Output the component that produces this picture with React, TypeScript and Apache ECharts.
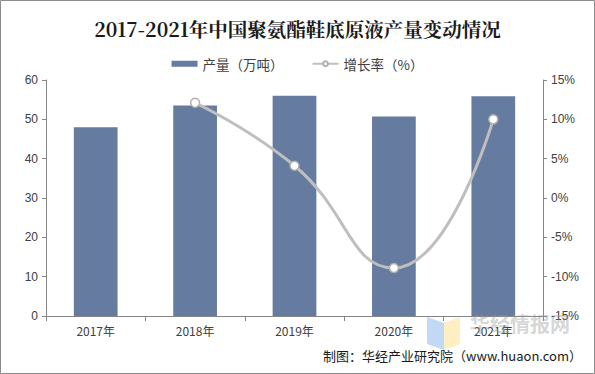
import React, { useEffect, useRef } from "react";
import * as echarts from "echarts";

const categories = ["2017年", "2018年", "2019年", "2020年", "2021年"];
const production = [48.0, 53.5, 56.0, 50.7, 55.9];
const growth = [null, 12.1, 4.1, -8.9, 10.0];
const leftTicks = { min: 0, max: 60, interval: 10 };
const rightTicks = { min: -15, max: 15, interval: 5 };

export default function App() {
  const ref = useRef<HTMLDivElement>(null);
  useEffect(() => {
    document.body.style.margin = "0";
    const chart = echarts.init(ref.current!, null, { renderer: "svg" });
    const axisColor = "#868686";
    const labelColor = "#404040";
    chart.setOption({
      animation: false,
      backgroundColor: "#ffffff",
      title: {
        text: "2017-2021年中国聚氨酯鞋底原液产量变动情况",
        left: "center",
        top: 14,
        textStyle: {
          fontFamily: "Noto Serif CJK SC, Noto Sans CJK SC, serif",
          fontSize: 19.5,
          fontWeight: "bold",
          color: "#1a1a1a",
        },
      },
      legend: {
        top: 52,
        left: "center",
        itemGap: 28,
        itemWidth: 26,
        itemHeight: 6,
        textStyle: { fontSize: 13.5, color: "#404040", fontFamily: "Noto Sans CJK SC" },
        data: [
          { name: "产量（万吨）", icon: "rect" },
          { name: "增长率（%）" },
        ],
      },
      grid: { left: 46, right: 52, top: 80, bottom: 58, containLabel: false },
      xAxis: {
        type: "category",
        data: categories,
        axisLine: { lineStyle: { color: axisColor } },
        axisTick: { show: true, alignWithLabel: false, lineStyle: { color: axisColor }, length: 5 },
        axisLabel: { color: labelColor, fontSize: 12, margin: 8, fontFamily: "Noto Sans CJK SC" },
      },
      yAxis: [
        {
          type: "value",
          ...leftTicks,
          axisLine: { show: true, lineStyle: { color: axisColor } },
          axisTick: { show: true, lineStyle: { color: axisColor }, length: 4 },
          axisLabel: { color: labelColor, fontSize: 12, margin: 8, fontFamily: "Arial, Liberation Sans" },
          splitLine: { show: false },
        },
        {
          type: "value",
          ...rightTicks,
          position: "right",
          axisLine: { show: true, lineStyle: { color: axisColor } },
          axisTick: { show: true, lineStyle: { color: axisColor }, length: 4 },
          axisLabel: {
            color: labelColor,
            fontSize: 12,
            margin: 8,
            formatter: "{value}%",
            fontFamily: "Arial, Liberation Sans",
          },
          splitLine: { show: false },
        },
      ],
      series: [
        {
          name: "产量（万吨）",
          type: "bar",
          data: production,
          barWidth: "44%",
          itemStyle: { color: "#667ba0" },
        },
        {
          name: "增长率（%）",
          type: "line",
          yAxisIndex: 1,
          data: growth,
          smooth: 0.5,
          symbol: "circle",
          symbolSize: 9,
          showSymbol: true,
          lineStyle: { color: "#bfbfbf", width: 3 },
          itemStyle: { color: "#ffffff", borderColor: "#b0b0b0", borderWidth: 1.5 },
        },
      ],
      graphic: [
        {
          type: "rect",
          shape: { x: 0.5, y: 0.5, width: 594, height: 373 },
          style: { fill: "none", stroke: "#8c8c8c", lineWidth: 1 },
          z: 100,
        },
        {
          type: "polygon",
          shape: { points: [[427, 317], [444, 323], [444, 350], [427, 344]] },
          style: { fill: "rgba(120,170,235,0.45)" },
          z: 50,
        },
        {
          type: "polygon",
          shape: { points: [[444, 323], [460, 317], [460, 344], [444, 350]] },
          style: { fill: "rgba(250,220,120,0.45)" },
          z: 50,
        },
        {
          type: "text",
          left: 470,
          top: 313,
          style: {
            text: "华经情报网",
            fontSize: 20,
            fontWeight: "bold",
            fill: "rgba(150,150,150,0.4)",
            fontFamily: "Noto Sans CJK SC",
          },
          z: 50,
        },
        {
          type: "text",
          right: 13,
          top: 349,
          style: {
            text: "制图：华经产业研究院（www.huaon.com）",
            fontSize: 13,
            fill: "#1a1a1a",
            fontFamily: "Noto Sans CJK SC",
          },
          z: 60,
        },
      ],
    });
    return () => chart.dispose();
  }, []);
  return <div ref={ref} style={{ width: 595, height: 374, position: "absolute", left: 0, top: 0 }} />;
}
